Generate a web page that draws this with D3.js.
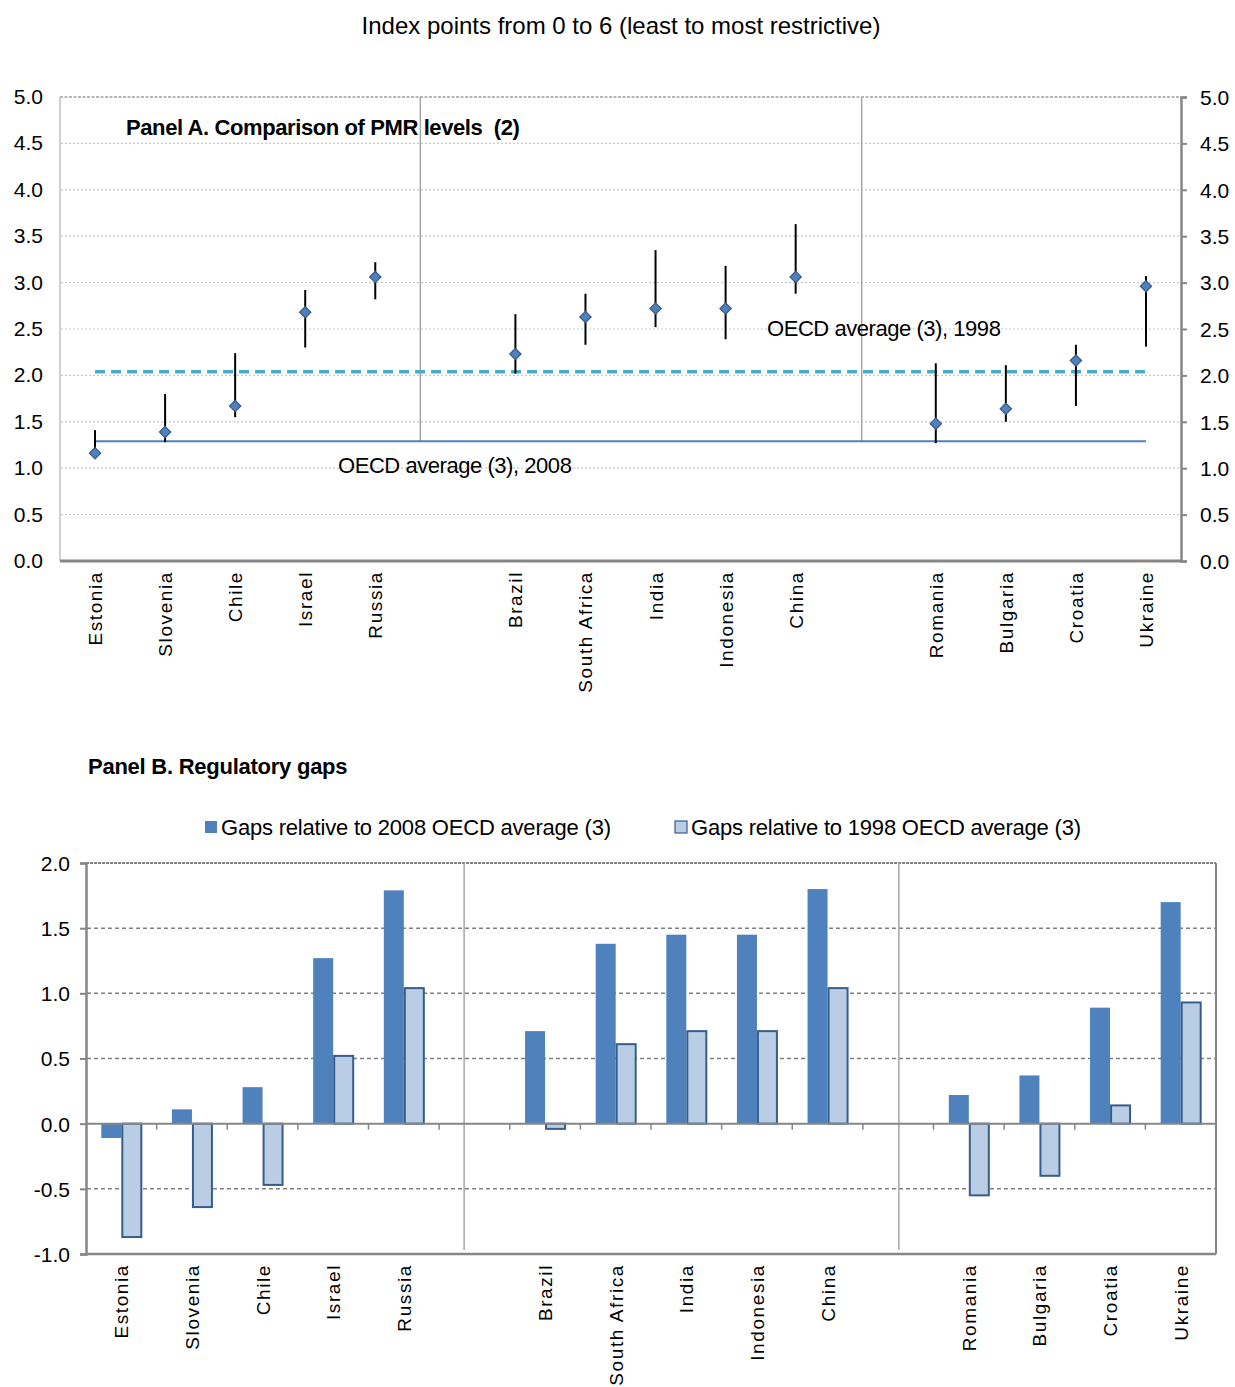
<!DOCTYPE html>
<html><head><meta charset="utf-8">
<script src="https://cdn.jsdelivr.net/npm/d3@7"></script>
<style>
body{margin:0;background:#fff;}
svg text{font-family:"Liberation Sans",Arial,sans-serif;fill:#000;}
</style></head>
<body>
<svg id="c" width="1235" height="1387"></svg>
<script>
// ---------- DATA ----------
const groupA = ["Estonia","Slovenia","Chile","Israel","Russia"];
const groupB = ["Brazil","South Africa","India","Indonesia","China"];
const groupC = ["Romania","Bulgaria","Croatia","Ukraine"];
const countries = groupA.concat(groupB, groupC);
// Panel A: PMR point estimate and range (low/high)
const pmrPoint = [1.16,1.39,1.67,2.68,3.06,2.23,2.63,2.72,2.72,3.06,1.48,1.64,2.16,2.96];
const pmrLow   = [1.15,1.28,1.55,2.30,2.82,2.02,2.33,2.52,2.39,2.88,1.27,1.50,1.67,2.31];
const pmrHigh  = [1.41,1.80,2.24,2.92,3.22,2.66,2.88,3.35,3.18,3.63,2.13,2.11,2.33,3.07];
const oecd2008 = 1.29;
const oecd1998 = 2.04;
const yTicksA = [0,0.5,1,1.5,2,2.5,3,3.5,4,4.5,5];
// Panel B: gaps
const gap2008 = [-0.11,0.11,0.28,1.27,1.79,0.71,1.38,1.45,1.45,1.80,0.22,0.37,0.89,1.70];
const gap1998 = [-0.87,-0.64,-0.47,0.52,1.04,-0.04,0.61,0.71,0.71,1.04,-0.55,-0.40,0.14,0.93];
const yTicksB = [-1,-0.5,0,0.5,1,1.5,2];
const seriesNames = ["Gaps relative to 2008 OECD average (3)","Gaps relative to 1998 OECD average (3)"];
const title = "Index points from 0 to 6 (least to most restrictive)";

// ---------- SETUP ----------
const svg = d3.select("#c");
const slots = groupA.concat(["_g1"], groupB, ["_g2"], groupC);
const fmt = d => d3.format(".1f")(d).replace("\u2212","-");
const dark = "#4F81BD", light = "#B9CDE5", edge = "#385D8A", grey = "#868686";

svg.append("text").attr("x",621).attr("y",34).attr("text-anchor","middle")
  .style("font-size","24px").text(title);

// ---------- PANEL A ----------
const xA = d3.scaleBand().domain(slots).range([60,1181]);
const yA = d3.scaleLinear().domain([0,5]).range([561,97]);
const gA = svg.append("g");

gA.selectAll(".grid").data(yTicksA.filter(d=>d>0 && d<5)).join("line")
  .attr("x1",61).attr("x2",1180).attr("y1",d=>yA(d)).attr("y2",d=>yA(d))
  .attr("stroke","#c8c8c8").attr("stroke-width",1.2).attr("stroke-dasharray","2,2");
gA.append("line").attr("x1",60).attr("x2",1181).attr("y1",yA(5)).attr("y2",yA(5))
  .attr("stroke","#a0a0a0").attr("stroke-width",1.5).attr("stroke-dasharray","3,1.5");
gA.append("line").attr("x1",60).attr("x2",60).attr("y1",yA(5)).attr("y2",yA(0))
  .attr("stroke","#b0b0b0").attr("stroke-width",1.2);
gA.selectAll(".yl").data(yTicksA).join("text")
  .attr("x",43).attr("y",d=>yA(d)+7).attr("text-anchor","end")
  .style("font-size","21px").text(d=>fmt(d));
const rAx = gA.append("g").attr("transform","translate(1181,0)")
  .call(d3.axisRight(yA).tickValues(yTicksA).tickSize(6).tickFormat(d=>fmt(d)));
rAx.select(".domain").attr("stroke",grey).attr("stroke-width",2.5);
rAx.selectAll(".tick line").attr("stroke",grey).attr("stroke-width",2);
rAx.selectAll(".tick text").attr("x",19).attr("dy","0.35em").style("font-size","21px").attr("fill","#000");
gA.append("line").attr("x1",60).attr("x2",1182).attr("y1",yA(0)).attr("y2",yA(0))
  .attr("stroke",grey).attr("stroke-width",3);

// separators (between groups)
const sepA = [xA("_g1")+10, xA("_g2")+31];
gA.selectAll(".sep").data(sepA).join("line")
  .attr("x1",d=>d).attr("x2",d=>d).attr("y1",yA(5)).attr("y2",yA(oecd2008))
  .attr("stroke","#a6a6a6").attr("stroke-width",1.5);

const cx = c => xA(c)+xA.bandwidth()/2;
const firstX = cx(countries[0]), lastX = cx(countries[countries.length-1]);
gA.append("line").attr("x1",firstX).attr("x2",lastX).attr("y1",yA(oecd2008)).attr("y2",yA(oecd2008))
  .attr("stroke",dark).attr("stroke-width",2);
gA.append("line").attr("x1",firstX).attr("x2",lastX).attr("y1",yA(oecd1998)).attr("y2",yA(oecd1998))
  .attr("stroke","#4BACC6").attr("stroke-width",3.5).attr("stroke-dasharray","10,6");

gA.selectAll(".rng").data(countries).join("line")
  .attr("x1",c=>cx(c)).attr("x2",c=>cx(c))
  .attr("y1",(c,i)=>yA(pmrLow[i])).attr("y2",(c,i)=>yA(pmrHigh[i]))
  .attr("stroke","#000").attr("stroke-width",2);
gA.selectAll(".pt").data(countries).join("path")
  .attr("d",d3.symbol(d3.symbolDiamond2,80)())
  .attr("transform",(c,i)=>`translate(${cx(c)},${yA(pmrPoint[i])})`)
  .attr("fill",dark).attr("stroke",edge).attr("stroke-width",1.3);

gA.append("text").attr("x",126).attr("y",135).style("font-size","22px").style("font-weight","bold")
  .style("letter-spacing","-0.4px").attr("xml:space","preserve").text("Panel A. Comparison of PMR levels  (2)");
gA.append("text").attr("x",338).attr("y",473).style("font-size","22px").style("letter-spacing","-0.45px")
  .text("OECD average (3), 2008");
gA.append("text").attr("x",767).attr("y",336).style("font-size","22px").style("letter-spacing","-0.45px")
  .text("OECD average (3), 1998");

gA.selectAll(".cl").data(countries).join("text")
  .attr("transform",c=>`translate(${cx(c)+7},571) rotate(-90)`)
  .attr("text-anchor","end").style("font-size","19px").style("letter-spacing","1.6px")
  .text(c=>c);

// ---------- PANEL B ----------
const xB = d3.scaleBand().domain(slots).range([86,1216]);
const yB = d3.scaleLinear().domain([-1,2]).range([1254,863]);
const gB = svg.append("g");

gB.append("text").attr("x",88).attr("y",774).style("font-size","22px").style("font-weight","bold")
  .style("letter-spacing","-0.25px").text("Panel B. Regulatory gaps");

const legX = [205,675];
seriesNames.forEach((s,i)=>{
  gB.append("rect").attr("x",legX[i]).attr("y",821).attr("width",12).attr("height",12)
    .attr("fill",i?light:dark).attr("stroke",i?edge:"none").attr("stroke-width",1.2);
  gB.append("text").attr("x",legX[i]+16).attr("y",835).style("font-size","22px")
    .style("letter-spacing","-0.2px").text(s);
});

gB.selectAll(".grid").data(yTicksB.filter(d=>d!==0 && d>-1 && d<2)).join("line")
  .attr("x1",87).attr("x2",1215).attr("y1",d=>yB(d)).attr("y2",d=>yB(d))
  .attr("stroke","#808080").attr("stroke-width",1.5).attr("stroke-dasharray","4,3");
gB.append("line").attr("x1",86).attr("x2",1216).attr("y1",yB(2)).attr("y2",yB(2))
  .attr("stroke","#808080").attr("stroke-width",2).attr("stroke-dasharray","3,1");
gB.append("line").attr("x1",1216).attr("x2",1216).attr("y1",yB(2)).attr("y2",yB(-1))
  .attr("stroke",grey).attr("stroke-width",2);
gB.append("line").attr("x1",86).attr("x2",1216).attr("y1",yB(-1)).attr("y2",yB(-1))
  .attr("stroke",grey).attr("stroke-width",2.5);
const sepB = [xB("_g1")+25, xB("_g2")+36];
gB.selectAll(".sep").data(sepB).join("line")
  .attr("x1",d=>d).attr("x2",d=>d).attr("y1",yB(2)).attr("y2",yB(-1)-4)
  .attr("stroke","#a6a6a6").attr("stroke-width",1.5);

const lAx = gB.append("g").attr("transform","translate(86,0)")
  .call(d3.axisLeft(yB).tickValues(yTicksB).tickSize(6).tickFormat(d=>fmt(d)));
lAx.select(".domain").attr("stroke",grey).attr("stroke-width",2.5);
lAx.selectAll(".tick line").attr("stroke",grey).attr("stroke-width",2);
lAx.selectAll(".tick text").attr("x",-16).attr("dy","0.35em").style("font-size","21px").attr("fill","#000");

const bw = 20;
const bcx = c => xB(c)+xB.bandwidth()/2;
gB.selectAll(".b1").data(countries).join("rect")
  .attr("x",c=>bcx(c)-bw).attr("width",bw)
  .attr("y",(c,i)=>yB(Math.max(0,gap2008[i]))).attr("height",(c,i)=>Math.abs(yB(gap2008[i])-yB(0)))
  .attr("fill",dark);
gB.selectAll(".b2").data(countries).join("rect")
  .attr("x",c=>bcx(c)+1).attr("width",bw-1)
  .attr("y",(c,i)=>yB(Math.max(0,gap1998[i]))).attr("height",(c,i)=>Math.abs(yB(gap1998[i])-yB(0)))
  .attr("fill",light).attr("stroke",edge).attr("stroke-width",2);

gB.append("line").attr("x1",86).attr("x2",1216).attr("y1",yB(0)).attr("y2",yB(0))
  .attr("stroke",grey).attr("stroke-width",2);
gB.selectAll(".zt").data(slots.slice(1)).join("line")
  .attr("x1",c=>xB(c)).attr("x2",c=>xB(c)).attr("y1",yB(0)).attr("y2",yB(0)+6)
  .attr("stroke",grey).attr("stroke-width",1.5);

gB.selectAll(".cl").data(countries).join("text")
  .attr("transform",c=>`translate(${bcx(c)+7},1264) rotate(-90)`)
  .attr("text-anchor","end").style("font-size","19px").style("letter-spacing","1.6px")
  .text(c=>c);
</script>
</body></html>
